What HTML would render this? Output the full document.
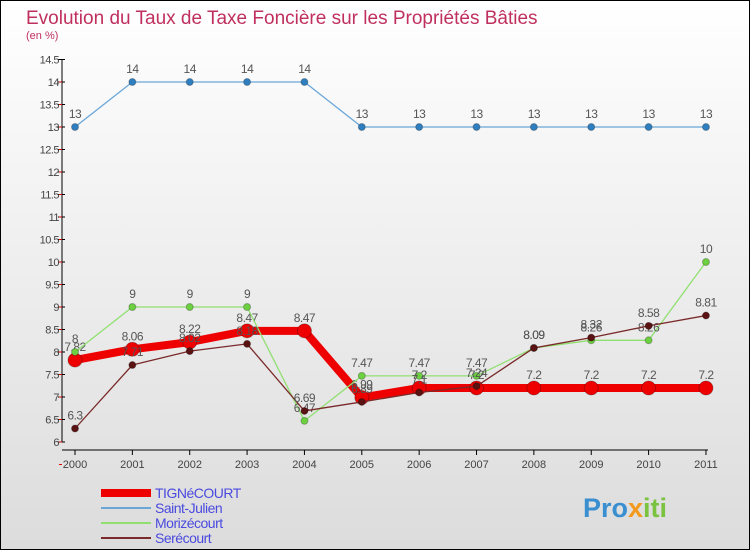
<!DOCTYPE html>
<html><head><meta charset="utf-8"><style>
html,body{margin:0;padding:0}
body{width:750px;height:550px;overflow:hidden;font-family:"Liberation Sans",sans-serif}
#wrap{position:relative;width:748px;height:548px;border:1px solid #000;background:linear-gradient(#ffffff,#dcdcdc)}
svg{position:absolute;left:0;top:0}
</style></head><body>
<div id="wrap">
<svg id="chart" width="748" height="548">
<text x="25" y="23" font-size="19" fill="#c0305f">Evolution du Taux de Taxe Foncière sur les Propriétés Bâties</text>
<text x="25" y="38" font-size="11" fill="#c0305f">(en %)</text>
<text x="582" y="516" font-size="27" font-weight="bold" fill="#3a8fd0">Pro<tspan fill="#f39a1e">x</tspan><tspan fill="#7cc241">iti</tspan></text>
</svg>
</div>
<script>
const years=[2000,2001,2002,2003,2004,2005,2006,2007,2008,2009,2010,2011];
const yTicks=[6,6.5,7,7.5,8,8.5,9,9.5,10,10.5,11,11.5,12,12.5,13,13.5,14,14.5];
const tign=[7.82,8.06,8.22,8.47,8.47,6.99,7.2,7.2,7.2,7.2,7.2,7.2];
const stJulien=[13,14,14,14,14,13,13,13,13,13,13,13];
const morize=[8,9,9,9,6.47,7.47,7.47,7.47,8.09,8.26,8.26,10];
const sere=[6.3,7.71,8.02,8.18,6.69,6.89,7.1,7.24,8.09,8.32,8.58,8.81];
const NS="http://www.w3.org/2000/svg";
const svg=document.getElementById('chart');
const xs=i=>74+i*57.36;
const ys=v=>126+(13-v)*45;
function mk(t,a,p){const e=document.createElementNS(NS,t);for(const k in a)e.setAttribute(k,a[k]);(p||svg).appendChild(e);return e;}
// axes
const ax=mk('g',{});


mk('line',{x1:61,y1:ys(14.5),x2:61,y2:ys(6),stroke:'#000'},ax);
mk('line',{x1:61,y1:ys(6)+8,x2:xs(11)+2,y2:ys(6)+8,stroke:'#000'},ax);
yTicks.forEach(v=>{
  mk('line',{x1:57,y1:ys(v),x2:64,y2:ys(v),stroke:'#000'},ax);
  mk('line',{x1:58,y1:ys(v)+22.5,x2:61,y2:ys(v)+22.5,stroke:'#d00'},ax);
  const t=mk('text',{x:58,y:ys(v)+4,'text-anchor':'end','font-size':11,fill:'#444','letter-spacing':'-0.5'},ax);
  
  
  t.textContent=v;
});
years.forEach((y,i)=>{
  mk('line',{x1:xs(i),y1:ys(6)+8,x2:xs(i),y2:ys(6)+13,stroke:'#000'},ax);
  const t=mk('text',{x:xs(i),y:ys(6)+26,'text-anchor':'middle','font-size':11,fill:'#444'},ax);
  
  
  t.textContent=y;
});
function series(data,color,dot,w,r,name){
  const g=mk('g',{});
  
  
  mk('polyline',{points:data.map((v,i)=>xs(i)+','+ys(v)).join(' '),fill:'none',stroke:color,'stroke-width':w,'stroke-linejoin':'round'},g);
  data.forEach((v,i)=>{
    const c=mk('circle',{cx:xs(i),cy:ys(v),r:r,fill:dot,stroke:'rgba(0,0,0,0.25)'},g);
    
    
    const t=mk('text',{x:xs(i),y:ys(v)-9,'text-anchor':'middle','font-size':12,fill:'#555','letter-spacing':'-0.5'},g);
    
    
    t.textContent=v;
  });
}
series(stJulien,'#6aa6d8','#2f7fc0',1.3,3.5,'series-saint-julien');
series(tign,'#ee0000','#ee0000',8,7,'series-tignecourt');
series(morize,'#90e070','#6cd040',1.3,3.5,'series-morizecourt');
series(sere,'#7a2a2a','#5a1212',1.3,3.5,'series-serecourt');
// legend
const lg=[['TIGNéCOURT','#ee0000',8],['Saint-Julien','#6aa6d8',2],['Morizécourt','#90e070',2],['Serécourt','#7a2a2a',2]];
lg.forEach((l,i)=>{
  const g=mk('g',{});
  
  
  const y=492+i*15;
  mk('line',{x1:100,y1:y,x2:150,y2:y,stroke:l[1],'stroke-width':l[2]},g);
  const t=mk('text',{x:154,y:y+5,'font-size':14,fill:'#4a4adf','letter-spacing':'-0.5'},g);
  t.textContent=l[0];
});
</script>
</body></html>
